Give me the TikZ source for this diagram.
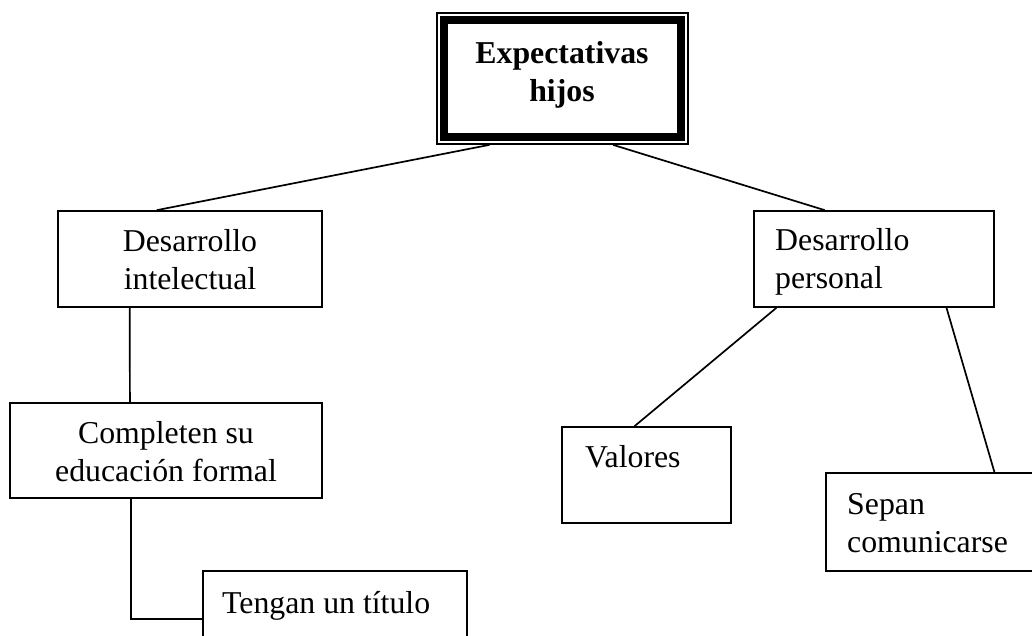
\documentclass[tikz,border=0pt]{standalone}
\usepackage{fontspec}
\setmainfont{Liberation Serif}
\usetikzlibrary{calc}
\begin{document}
\begin{tikzpicture}[x=1pt,y=-1pt,
  box/.style={draw, line width=1.7pt, inner sep=0pt},
  lbl/.style={inner sep=0pt, font=\fontsize{31.8}{37.5}\selectfont},
  link/.style={line width=1.7pt}]
\useasboundingbox (0,0) rectangle (1032,635);
\clip (0,0) rectangle (1032,635);
% top box with thin outer and thick inner frame
\node[box, minimum width=251pt, minimum height=131pt] (top) at (562.5,78.5) {};
\draw[line width=8pt] ($(top.north west)+(8,8)$) rectangle ($(top.south east)+(-8,-8)$);
\node[lbl, font=\fontsize{31.8}{37.5}\selectfont\bfseries, align=center, anchor=north] (eh) at (562,41.7) {Expectativas\\hijos};
% second level
\node[box, minimum width=264pt, minimum height=96pt] (di) at (190,259) {};
\node[lbl, align=center, anchor=north] (dit) at (190,229.5) {Desarrollo\\intelectual};
\node[box, minimum width=240pt, minimum height=96pt] (dp) at (874,259) {};
\node[lbl, align=left, anchor=north west] (dpt) at (775,228.5) {Desarrollo\\personal};
% third level
\node[box, minimum width=312pt, minimum height=95pt] (ce) at (166,450.5) {};
\node[lbl, align=center, anchor=north] (cet) at (166,421.5) {Completen su\\educación formal};
\node[box, minimum width=169pt, minimum height=96pt] (vl) at (646.5,475) {};
\node[lbl, anchor=base west] (vlt) at (585,467) {Valores};
\node[box, minimum width=224pt, minimum height=98pt] (sc) at (938,522) {};
\node[lbl, align=left, anchor=north west] (sct) at (847,493.7) {Sepan\\comunicarse};
% fourth level
\node[box, minimum width=264pt, minimum height=96pt] (tt) at (335,619) {};
\node[lbl, anchor=base west] (ttt) at (222,613) {Tengan un título};
% connectors
\draw[link] ($(top.south west)!0.211!(top.south east)$) -- ($(di.north west)!0.375!(di.north east)$);
\draw[link] ($(top.south west)!0.70!(top.south east)$) -- ($(dp.north west)!0.296!(dp.north east)$);
\draw[link] ($(di.south west)!0.273!(di.south east)$) -- ($(ce.north west)!0.385!(ce.north east)$);
\draw[link] ($(ce.south west)!0.388!(ce.south east)$) |- (tt.west);
\draw[link] ($(dp.south west)!0.096!(dp.south east)$) -- ($(vl.north west)!0.43!(vl.north east)$);
\draw[link] ($(dp.south west)!0.80!(dp.south east)$) -- ($(sc.north west)!0.75!(sc.north east)$);
\end{tikzpicture}
\end{document}
